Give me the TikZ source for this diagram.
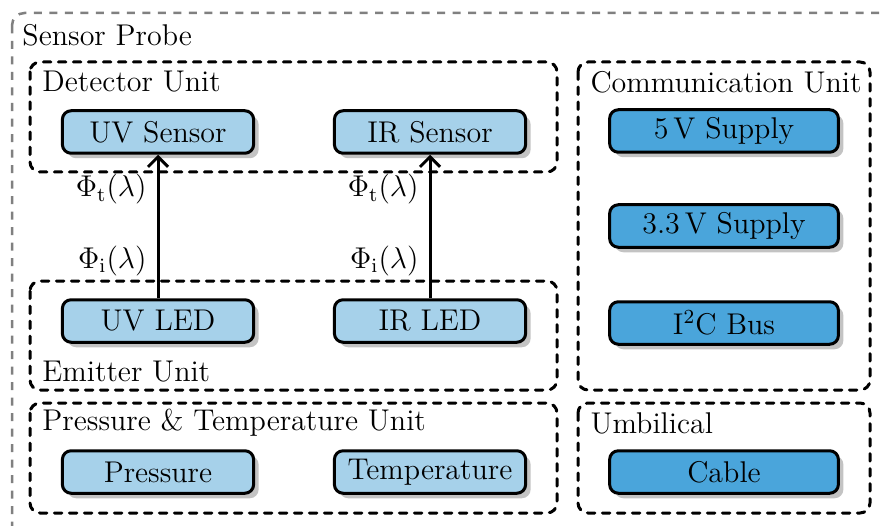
\documentclass[tikz,border=0pt,12pt]{standalone}
\usetikzlibrary{shadows,arrows.meta}
\definecolor{lightblu}{RGB}{166,209,234}
\definecolor{darkblu}{RGB}{74,165,219}
\definecolor{shadowgray}{RGB}{195,195,195}
\begin{document}
\begin{tikzpicture}[x=0.4pt,y=-0.4pt,
  comp/.style={draw=black, line width=1.2pt, rounded corners=3.5pt,
    minimum width=76.5pt, minimum height=17pt, inner sep=0pt,
    drop shadow={shadow xshift=2pt, shadow yshift=-2pt, fill=shadowgray, opacity=1}},
  lcomp/.style={comp, fill=lightblu},
  dcomp/.style={comp, fill=darkblu, minimum width=91.5pt},
  grp/.style={draw=black, line width=1.2pt, dash pattern=on 3pt off 3pt, line cap=round, rounded corners=4pt},
  outer/.style={draw=black!50, line width=1pt, dash pattern=on 3.2pt off 3pt, rounded corners=5pt},
  lbl/.style={anchor=west, inner sep=0pt},
  flow/.style={line width=1.2pt, -{Straight Barb[length=4pt,width=8pt]}}]
\useasboundingbox (0,0) rectangle (880,526);
% outer
\draw[outer] (12,13) rectangle (905,560);
\node[lbl] (probe) at (22,35) {Sensor Probe};
% groups
\draw[grp] (30,62) rectangle (557,172);
\node[lbl] (det) at (42,82) {Detector Unit};
\draw[grp] (30,281) rectangle (557,390);
\node[lbl] (emi) at (42,372) {Emitter Unit};
\draw[grp] (30,403) rectangle (557,513);
\node[lbl] (pt) at (42,423) {Pressure \& Temperature Unit};
\draw[grp] (578,62) rectangle (870,390);
\node[lbl] (com) at (590,82) {Communication Unit};
\draw[grp] (578,403) rectangle (870,513);
\node[lbl] (umb) at (590,423) {Umbilical};
% components
\node[lcomp] (uvs) at (158,132) {UV Sensor};
\node[lcomp] (irs) at (430,132) {IR Sensor};
\node[lcomp] (uvl) at (158,321) {UV LED};
\node[lcomp] (irl) at (430,321) {IR LED};
\node[lcomp] (pres) at (158,472) {Pressure};
\node[lcomp] (temp) at (430,472) {Temperature};
\node[dcomp] (v5) at (724,131) {5\,V Supply};
\node[dcomp] (v33) at (724,226) {3.3\,V Supply};
\node[dcomp] (i2c) at (724,323) {I$^2$C Bus};
\node[dcomp] (cab) at (724,472) {Cable};
% flows
\draw[flow] (uvl.north) -- node[pos=0.26, left] {$\Phi_\mathrm{i}(\lambda)$}
  node[pos=0.76, left] {$\Phi_\mathrm{t}(\lambda)$} (uvs.south);
\draw[flow] (irl.north) -- node[pos=0.26, left] {$\Phi_\mathrm{i}(\lambda)$}
  node[pos=0.76, left] {$\Phi_\mathrm{t}(\lambda)$} (irs.south);
\end{tikzpicture}
\end{document}
